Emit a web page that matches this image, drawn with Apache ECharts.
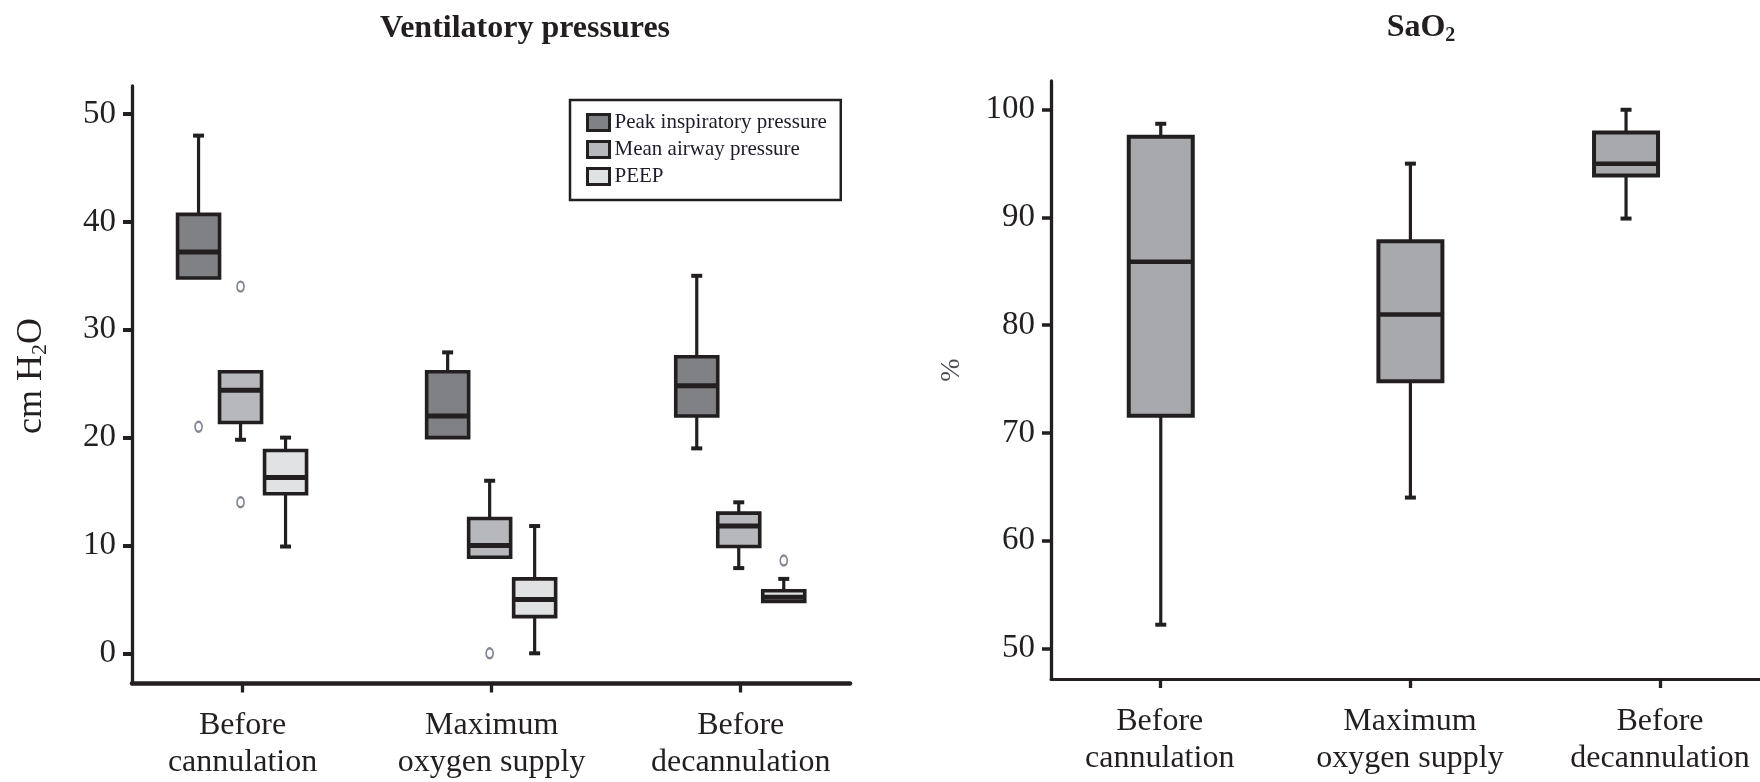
<!DOCTYPE html>
<html>
<head>
<meta charset="utf-8">
<script src="https://cdn.jsdelivr.net/npm/echarts@6/dist/echarts.min.js"></script>
<style>
html,body{margin:0;padding:0;background:#fff;}
#chart{width:1760px;height:782px;}
</style>
</head>
<body>
<div id="chart"></div>
<script>
// ---------- DATA ----------
const categories = ['Before\ncannulation', 'Maximum\noxygen supply', 'Before\ndecannulation'];
const pressureTicks = [0, 10, 20, 30, 40, 50];
const sao2Ticks = [50, 60, 70, 80, 90, 100];
const seriesNames = ['Peak inspiratory pressure', 'Mean airway pressure', 'PEEP'];
// box statistics per category: [min, Q1, median, Q3, max]
const peakInspiratory = [[34.8, 34.8, 37.2, 40.7, 48], [20, 20, 22, 26.1, 27.9], [19, 22, 24.8, 27.5, 35]];
const meanAirway = [[19.8, 21.4, 24.4, 26.1, 26.1], [8.9, 8.9, 10, 12.5, 16], [7.9, 9.9, 11.8, 13, 14]];
const peep = [[9.9, 14.8, 16.3, 18.8, 20], [0, 3.4, 5, 6.9, 11.8], [4.8, 4.8, 5.2, 5.8, 6.9]];
// outliers: [category index, value]
const peakOutliers = [[0, 21]];
const meanOutliers = [[0, 34], [0, 14], [1, 0]];
const peepOutliers = [[2, 8.6]];
const sao2 = [[52.2, 71.6, 85.9, 97.5, 98.7], [64, 74.8, 81, 87.8, 95], [89.9, 93.9, 95, 97.9, 100]];

// ---------- STYLE / LAYOUT ----------
const INK = '#231f20';
const FONT = 'Liberation Serif';
const FILLS = ['#808184', '#b7b8bb', '#e1e2e4'];
const SAO2_FILL = '#a8a9ac';
const PRESSURE_SHIFT = [-44, -2, 43];      // px offsets of the three boxes around each category
const SAO2_SHIFT = [1, 0.5, -34];           // px offsets of the SaO2 boxes

function toRows(stats) { return stats.map((s, i) => [i].concat(s)); }

function boxRenderer(cfg) {
  return function (params, api) {
    const x = api.value(0);
    const ys = [1, 2, 3, 4, 5].map(k => api.coord([x, api.value(k)])[1]);
    const yMin = ys[0], yQ1 = ys[1], yMed = ys[2], yQ3 = ys[3], yMax = ys[4];
    const shift = typeof cfg.shift === 'function' ? cfg.shift(params.dataIndex) : cfg.shift;
    const cx = api.coord([x, api.value(1)])[0] + shift;
    const hw = cfg.boxWidth / 2, hc = cfg.capWidth / 2;
    const ls = { stroke: INK, lineWidth: cfg.whiskerWidth };
    const cs = { stroke: INK, lineWidth: cfg.capLine };
    const children = [];
    if (yQ3 - yMax > 0.5) {
      children.push({ type: 'line', shape: { x1: cx, y1: yQ3, x2: cx, y2: yMax }, style: ls });
      children.push({ type: 'line', shape: { x1: cx - hc, y1: yMax, x2: cx + hc, y2: yMax }, style: cs });
    }
    if (yMin - yQ1 > 0.5) {
      children.push({ type: 'line', shape: { x1: cx, y1: yQ1, x2: cx, y2: yMin }, style: ls });
      children.push({ type: 'line', shape: { x1: cx - hc, y1: yMin, x2: cx + hc, y2: yMin }, style: cs });
    }
    children.push({ type: 'rect', shape: { x: cx - hw, y: yQ3, width: 2 * hw, height: yQ1 - yQ3 },
      style: { fill: cfg.fill, stroke: INK, lineWidth: cfg.border } });
    children.push({ type: 'line', shape: { x1: cx - hw, y1: yMed, x2: cx + hw, y2: yMed },
      style: { stroke: INK, lineWidth: cfg.medianWidth } });
    return { type: 'group', children: children };
  };
}

function pressureSeries(name, stats, idx) {
  return {
    name: name, type: 'custom', xAxisIndex: 0, yAxisIndex: 0,
    itemStyle: { color: FILLS[idx], borderColor: INK, borderWidth: 3 },
    encode: { x: 0, y: [1, 2, 3, 4, 5] },
    data: toRows(stats),
    renderItem: boxRenderer({ shift: PRESSURE_SHIFT[idx], boxWidth: 42, capWidth: 11, capLine: 4,
      whiskerWidth: 3.2, border: 3.6, medianWidth: 5, fill: FILLS[idx] }),
    silent: true
  };
}
function outlierSeries(name, pts, idx) {
  return {
    name: name + ' outliers', type: 'scatter', xAxisIndex: 0, yAxisIndex: 0,
    data: pts, symbol: 'emptyCircle', symbolSize: [7, 10], symbolOffset: [PRESSURE_SHIFT[idx], 0],
    itemStyle: { color: '#646978', borderWidth: 1.6 }, silent: true
  };
}

const axisLabelStyle = { fontFamily: FONT, fontSize: 33, color: INK };
const catLabelStyle = { fontFamily: FONT, fontSize: 32, color: INK, lineHeight: 37 };

const chart = echarts.init(document.getElementById('chart'), null, { renderer: 'canvas' });
chart.setOption({
  animation: false,
  backgroundColor: '#ffffff',
  title: [
    { text: 'Ventilatory pressures', left: 520, top: 8, textAlign: 'center',
      textStyle: { fontFamily: FONT, fontSize: 32, fontWeight: 'bold', color: INK } },
    { text: '{n|SaO}{s|2}', left: 1416, top: 5, textAlign: 'center',
      textStyle: { rich: {
        n: { fontFamily: FONT, fontSize: 32, fontWeight: 'bold', color: INK, lineHeight: 36 },
        s: { fontFamily: FONT, fontSize: 20, fontWeight: 'bold', color: INK, lineHeight: 16, verticalAlign: 'bottom' } } } }
  ],
  legend: {
    orient: 'vertical', left: 570, top: 100, padding: [12, 14, 13, 16], itemGap: 6,
    itemWidth: 22, itemHeight: 16, borderColor: INK, borderWidth: 2.5, selectedMode: false,
    data: seriesNames.map((n, i) => ({ name: n, icon: 'rect',
      itemStyle: { color: FILLS[i], borderColor: INK, borderWidth: 3 } })),
    textStyle: { fontFamily: FONT, fontSize: 21, color: '#1c1c2a', lineHeight: 20 }
  },
  grid: [
    { left: 132, top: 86, width: 718, height: 597.5 },
    { left: 1051, top: 81, width: 709, height: 598 }
  ],
  xAxis: [
    { gridIndex: 0, type: 'value', min: -0.4438, max: 2.4386, splitLine: { show: false },
      axisLine: { show: true, onZero: false, lineStyle: { color: INK, width: 4.5 } },
      axisTick: { show: true, customValues: [0, 1, 2], length: 9, lineStyle: { color: INK, width: 3.3 } },
      axisLabel: Object.assign({ customValues: [0, 1, 2], margin: 24,
        formatter: v => categories[Math.round(v)] }, catLabelStyle) },
    { gridIndex: 1, type: 'value', min: -0.4348, max: 2.3996, splitLine: { show: false },
      axisLine: { show: true, onZero: false, lineStyle: { color: INK, width: 3 } },
      axisTick: { show: true, customValues: [0, 1, 2], length: 9, lineStyle: { color: INK, width: 3.3 } },
      axisLabel: Object.assign({ customValues: [0, 1, 2], margin: 24,
        formatter: v => categories[Math.round(v)] }, catLabelStyle) }
  ],
  yAxis: [
    { gridIndex: 0, type: 'value', min: -2.8, max: 52.6, splitLine: { show: false },
      axisLine: { show: true, onZero: false, lineStyle: { color: INK, width: 3.3 } },
      axisTick: { show: true, customValues: pressureTicks, length: 9, lineStyle: { color: INK, width: 4 } },
      axisLabel: Object.assign({ customValues: pressureTicks, margin: 16 }, axisLabelStyle) },
    { gridIndex: 1, type: 'value', min: 47.16, max: 102.67, splitLine: { show: false },
      axisLine: { show: true, onZero: false, lineStyle: { color: INK, width: 3.3 } },
      axisTick: { show: true, customValues: sao2Ticks, length: 9, lineStyle: { color: INK, width: 3.5 } },
      axisLabel: Object.assign({ customValues: sao2Ticks, margin: 16 }, axisLabelStyle) }
  ],
  graphic: [
    { type: 'text', x: 32, y: 376, rotation: Math.PI / 2, silent: true,
      style: { text: '{n|cm H}{s|2}{n|O}', align: 'center', verticalAlign: 'middle',
        rich: { n: { fontFamily: FONT, fontSize: 36, fill: INK, lineHeight: 38 },
                s: { fontFamily: FONT, fontSize: 22, fill: INK, lineHeight: 15, verticalAlign: 'bottom' } } } },
    { type: 'text', x: 952, y: 370, rotation: Math.PI / 2, silent: true,
      style: { text: '%', align: 'center', verticalAlign: 'middle', fontFamily: FONT, fontSize: 28, fill: '#4a4a52' } }
  ],
  series: [
    pressureSeries(seriesNames[0], peakInspiratory, 0),
    pressureSeries(seriesNames[1], meanAirway, 1),
    pressureSeries(seriesNames[2], peep, 2),
    outlierSeries(seriesNames[0], peakOutliers, 0),
    outlierSeries(seriesNames[1], meanOutliers, 1),
    outlierSeries(seriesNames[2], peepOutliers, 2),
    { name: 'SaO2', type: 'custom', xAxisIndex: 1, yAxisIndex: 1,
      encode: { x: 0, y: [1, 2, 3, 4, 5] }, data: toRows(sao2), silent: true,
      renderItem: boxRenderer({ shift: i => SAO2_SHIFT[i], boxWidth: 64, capWidth: 11, capLine: 4,
        whiskerWidth: 3.2, border: 4, medianWidth: 4.5, fill: SAO2_FILL }) }
  ]
});
</script>
</body>
</html>
